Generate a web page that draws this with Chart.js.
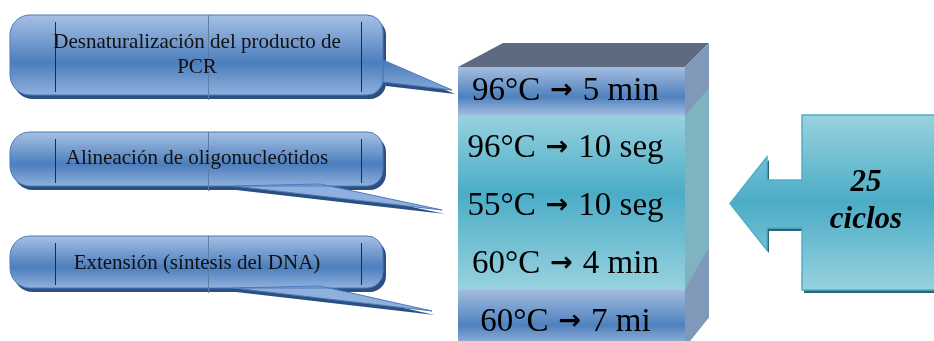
<!DOCTYPE html>
<html lang="es">
<head>
<meta charset="utf-8">
<script src="https://cdn.jsdelivr.net/npm/chart.js@4"></script>
<style>
  html, body { margin: 0; padding: 0; background: #fff; }
  canvas { display: block; }
</style>
</head>
<body>
<canvas id="pcr-chart" width="934" height="341"></canvas>
<script>
// Programa del termociclador, de arriba abajo
const pcrSteps = ['96°C → 5 min', '96°C → 10 seg', '55°C → 10 seg', '60°C → 4 min', '60°C → 7 mi'];
const stepUnits = [1, 1, 1, 1, 1];
const stepGroup = ['fijo', 'ciclo', 'ciclo', 'ciclo', 'fijo'];

// Notas de cada fase del ciclo
const phaseNotes = [
    ['Desnaturalización del producto de', 'PCR'],
    ['Alineación de oligonucleótidos'],
    ['Extensión (síntesis del DNA)']
];
const cycleCount = 25;
const cycleWord = 'ciclos';

// Colores
const BLUE = ['#a4bee1', '#4f81bd', '#a2bce0'];
const TEAL = ['#98d2df', '#4bacc6', '#98d2df'];
const TOP_FACE = '#5d6a80';
const SIDE_BLUE = '#8199b8';
const SIDE_TEAL = '#80b3c0';

// Posiciones de los globos y de la flecha de ciclos
const bubbleLayout = [
    { x: 10, y: 15, w: 373, h: 80, tail: [[383, 60], [452, 90], [383, 82]], lines: [42, 67] },
    { x: 10, y: 132, w: 373, h: 54, tail: [[320, 184], [442, 210], [233, 186]], lines: [158] },
    { x: 10, y: 236, w: 373, h: 52, tail: [[320, 286], [432, 311], [233, 288]], lines: [263] }
];
const cycleBox = { x: 802, y: 115, w: 150, h: 175, tipX: 730, headX: 767, shaftTop: 180, shaftBottom: 228, headTop: 157, headBottom: 250 };

function stepRange(i) {
    let start = 0;
    for (let k = 0; k < i; k++) start += stepUnits[k];
    return [start, start + stepUnits[i]];
}

// Degradado vertical: cada paso fijo por separado, los pasos del ciclo como un solo bloque
function stepFill(context, i) {
    const chart = context.chart;
    const y = chart.scales.y;
    const area = chart.chartArea;
    if (!area || !y) return BLUE[1];
    const cyc = stepGroup[i] === 'ciclo';
    let from, to;
    if (cyc) {
        from = stepRange(stepGroup.indexOf('ciclo'))[0];
        to = stepRange(stepGroup.lastIndexOf('ciclo'))[1];
    } else {
        [from, to] = stepRange(i);
    }
    const y0 = Math.max(area.top, y.getPixelForValue(from));
    const y1 = Math.min(area.bottom + 7, y.getPixelForValue(to));
    const g = chart.ctx.createLinearGradient(0, y0, 0, y1);
    const c = cyc ? TEAL : BLUE;
    g.addColorStop(0, c[0]);
    g.addColorStop(cyc ? 0.45 : 0.62, c[1]);
    g.addColorStop(1, c[2]);
    return g;
}

// Rectángulo visible de un paso (recortado al área del gráfico)
function barBox(chart, i) {
    const el = chart.getDatasetMeta(i).data[0];
    const area = chart.chartArea;
    return {
        left: el.x - el.width / 2,
        right: el.x + el.width / 2,
        top: Math.max(area.top, Math.min(el.y, el.base)),
        bottom: Math.max(el.y, el.base),
        cx: el.x
    };
}

// Caras superior y lateral del bloque, y el texto de cada paso
const blockPlugin = {
    id: 'block3d',
    afterDatasetsDraw(chart) {
        const ctx = chart.ctx;
        const first = barBox(chart, 0);
        const last = barBox(chart, pcrSteps.length - 1);
        const r = first.right;
        ctx.save();
        // cara superior
        ctx.fillStyle = TOP_FACE;
        ctx.beginPath();
        ctx.moveTo(first.left, first.top);
        ctx.lineTo(first.left + 45, first.top - 24);
        ctx.lineTo(r + 24, first.top - 24);
        ctx.lineTo(r, first.top);
        ctx.closePath();
        ctx.fill();
        // cara lateral completa
        ctx.fillStyle = SIDE_BLUE;
        ctx.beginPath();
        ctx.moveTo(r, first.top);
        ctx.lineTo(r + 24, first.top - 24);
        ctx.lineTo(r + 24, last.bottom - 30);
        ctx.lineTo(r, last.bottom);
        ctx.closePath();
        ctx.fill();
        // tramo lateral de los pasos del ciclo
        const c0 = barBox(chart, stepGroup.indexOf('ciclo'));
        const c1 = barBox(chart, stepGroup.lastIndexOf('ciclo'));
        ctx.fillStyle = SIDE_TEAL;
        ctx.beginPath();
        ctx.moveTo(r, c0.top);
        ctx.lineTo(r + 24, c0.top - 27);
        ctx.lineTo(r + 24, c1.bottom - 42);
        ctx.lineTo(r, c1.bottom);
        ctx.closePath();
        ctx.fill();
        // texto de cada paso: temperatura, flecha gruesa, tiempo
        ctx.textBaseline = 'middle';
        ctx.fillStyle = '#000';
        pcrSteps.forEach((s, i) => {
            const b = barBox(chart, i);
            const [temp, time] = s.split('→').map(t => t.trim());
            const textFont = '33px "Liberation Serif", serif';
            const arrowFont = 'bold 27px "DejaVu Sans", sans-serif';
            ctx.font = textFont;
            const wTemp = ctx.measureText(temp).width;
            const wTime = ctx.measureText(time).width;
            const gap = 10;
            ctx.font = arrowFont;
            const wArrow = ctx.measureText('→').width;
            const total = wTemp + gap + wArrow + gap + wTime;
            let x = b.cx - 6 - total / 2;
            const bottom = Math.min(b.bottom, chart.chartArea.bottom + 14);
            // el primer paso va centrado; los demás algo más abajo
            const y = (b.top + bottom) / 2 + (i === 0 ? 0 : 4);
            ctx.textAlign = 'left';
            ctx.font = textFont;
            ctx.fillText(temp, x, y);
            x += wTemp + gap;
            ctx.font = arrowFont;
            ctx.fillText('→', x, y);
            x += wArrow + gap;
            ctx.font = textFont;
            ctx.fillText(time, x, y);
        });
        ctx.restore();
    }
};

function bubblePath(ctx, b, dx, dy) {
    ctx.beginPath();
    ctx.roundRect(b.x + dx, b.y + dy, b.w, b.h, [20, 16, 16, 20]);
    ctx.moveTo(b.tail[0][0] + dx, b.tail[0][1] + dy);
    ctx.lineTo(b.tail[1][0] + dx, b.tail[1][1] + dy);
    ctx.lineTo(b.tail[2][0] + dx, b.tail[2][1] + dy);
    ctx.closePath();
}

// Globos de texto con las fases y la flecha de ciclos
const notesPlugin = {
    id: 'notes',
    afterDraw(chart) {
        const ctx = chart.ctx;
        ctx.save();
        bubbleLayout.forEach((b, i) => {
            // sombra
            ctx.fillStyle = '#2b4f80';
            bubblePath(ctx, b, 3, 4);
            ctx.fill();
            // globo
            const g = ctx.createLinearGradient(0, b.y, 0, b.y + b.h);
            g.addColorStop(0, '#a6c0e4');
            g.addColorStop(0.6, '#4c7ebd');
            g.addColorStop(1, '#8fb0dc');
            ctx.fillStyle = g;
            bubblePath(ctx, b, 0, 0);
            ctx.fill();
            ctx.strokeStyle = '#4a7bb9';
            ctx.lineWidth = 1;
            ctx.stroke();
            // líneas de la tabla de fondo
            ctx.strokeStyle = '#1c2c44';
            [55.5, 361.5].forEach(x => {
                ctx.beginPath();
                ctx.moveTo(x, b.y + 7);
                ctx.lineTo(x, b.y + b.h - 3);
                ctx.stroke();
            });
            ctx.strokeStyle = '#5f7ea6';
            ctx.beginPath();
            ctx.moveTo(208.5, b.y);
            ctx.lineTo(208.5, b.y + b.h + 5);
            ctx.stroke();
            // texto
            ctx.fillStyle = '#111';
            ctx.font = '21px "Liberation Serif", serif';
            ctx.textAlign = 'center';
            ctx.textBaseline = 'middle';
            phaseNotes[i].forEach((line, k) => ctx.fillText(line, 197, b.lines[k]));
        });

        // flecha de ciclos
        const c = cycleBox;
        const arrowPath = (dx, dy) => {
            ctx.beginPath();
            ctx.moveTo(c.x + dx, c.y + dy);
            ctx.lineTo(c.x + c.w + dx, c.y + dy);
            ctx.lineTo(c.x + c.w + dx, c.y + c.h + dy);
            ctx.lineTo(c.x + dx, c.y + c.h + dy);
            ctx.lineTo(c.x + dx, c.shaftBottom + dy);
            ctx.lineTo(c.headX + dx, c.shaftBottom + dy);
            ctx.lineTo(c.headX + dx, c.headBottom + dy);
            ctx.lineTo(c.tipX + dx, (c.headTop + c.headBottom) / 2 + dy);
            ctx.lineTo(c.headX + dx, c.headTop + dy);
            ctx.lineTo(c.headX + dx, c.shaftTop + dy);
            ctx.lineTo(c.x + dx, c.shaftTop + dy);
            ctx.closePath();
        };
        ctx.fillStyle = '#2b6676';
        arrowPath(2, 3);
        ctx.fill();
        const g = ctx.createLinearGradient(0, c.y, 0, c.y + c.h);
        g.addColorStop(0, TEAL[0]);
        g.addColorStop(0.5, TEAL[1]);
        g.addColorStop(1, TEAL[2]);
        ctx.fillStyle = g;
        arrowPath(0, 0);
        ctx.fill();
        ctx.strokeStyle = '#4fb0c9';
        ctx.lineWidth = 1.5;
        ctx.stroke();
        ctx.fillStyle = '#000';
        ctx.font = 'italic bold 31px "Liberation Serif", serif';
        ctx.textAlign = 'center';
        ctx.textBaseline = 'middle';
        ctx.fillText(String(cycleCount), 866, 183);
        ctx.fillText(cycleWord, 866, 220);
        ctx.restore();
    }
};

new Chart(document.getElementById('pcr-chart'), {
    type: 'bar',
    data: {
        labels: ['PCR'],
        datasets: pcrSteps.map((s, i) => ({
            label: s,
            data: [stepUnits[i]],
            backgroundColor: ctx => stepFill(ctx, i),
            borderWidth: 0,
            barPercentage: 1,
            categoryPercentage: 1,
            clip: 0
        }))
    },
    options: {
        responsive: false,
        animation: false,
        layout: { padding: { left: 458, right: 249, top: 67, bottom: 0 } },
        scales: {
            x: { stacked: true, display: false },
            y: { stacked: true, display: false, reverse: true, min: 0.17, max: 4.89 }
        },
        plugins: {
            legend: { display: false },
            tooltip: { enabled: false }
        }
    },
    plugins: [blockPlugin, notesPlugin]
});
</script>
</body>
</html>
